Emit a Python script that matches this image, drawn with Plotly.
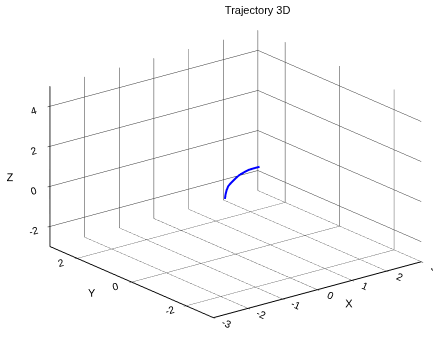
import plotly.graph_objects as go

# Trajectory samples (x, y, z)
traj_x = [-0.31, -0.29, -0.26, -0.21, -0.11, 0.00, 0.11, 0.24, 0.37, 0.52, 0.69]
traj_y = [0.0, 0.0, 0.0, 0.0, 0.0, 0.0, 0.0, 0.0, 0.0, 0.0, 0.0]
traj_z = [-0.10, 0.12, 0.32, 0.50, 0.65, 0.79, 0.90, 0.97, 1.03, 1.04, 1.04]

x_ticks = [-3, -2, -1, 0, 1, 2, 3]
y_ticks = [-2, 0, 2]
z_ticks = [-2, 0, 2, 4]
x_range = [-3, 3]
y_range = [-3, 3]
z_range = [-3, 5]

font_family = "Liberation Sans, Arial, sans-serif"

fig = go.Figure(
    go.Scatter3d(
        x=traj_x, y=traj_y, z=traj_z,
        mode="lines",
        line=dict(color="rgb(0,0,255)", width=4),
        showlegend=False,
        hoverinfo="skip",
    )
)


def axis(title, ticks, rng):
    return dict(
        title=dict(text=title, font=dict(size=11, color="black", family=font_family)),
        range=rng,
        tickvals=ticks,
        ticktext=[str(t) for t in ticks],
        tickfont=dict(size=11, color="black", family=font_family),
        showgrid=True,
        gridcolor="rgb(50,50,50)",
        gridwidth=1,
        showline=True,
        linecolor="black",
        linewidth=2,
        ticks="outside",
        ticklen=3,
        tickcolor="black",
        showbackground=False,
        zeroline=False,
        showspikes=False,
        autorange=False,
    )


# camera look-at offset (moves the box sideways on screen)
shift = 0.11
cx, cy = -0.786 * shift, 0.618 * shift

fig.update_layout(
    width=433,
    height=348,
    margin=dict(l=0, r=0, t=0, b=0),
    paper_bgcolor="white",
    title=dict(
        text="Trajectory 3D",
        x=0.595, xanchor="center", y=0.97, yanchor="middle",
        font=dict(size=11, color="black", family=font_family),
    ),
    scene=dict(
        domain=dict(x=[0.0, 1.0], y=[0.0, 1.0]),
        xaxis=axis("X", x_ticks, x_range),
        yaxis=axis("Y", y_ticks, y_range),
        zaxis=axis("Z", z_ticks, z_range),
        aspectmode="manual",
        aspectratio=dict(x=1.52, y=1.52, z=0.98),
        camera=dict(
            eye=dict(x=-1.16 + cx, y=-1.476 + cy, z=0.684),
            up=dict(x=0, y=0, z=1),
            center=dict(x=cx, y=cy, z=0),
            projection=dict(type="orthographic"),
        ),
        bgcolor="white",
    ),
)

fig.write_html("out.html")
